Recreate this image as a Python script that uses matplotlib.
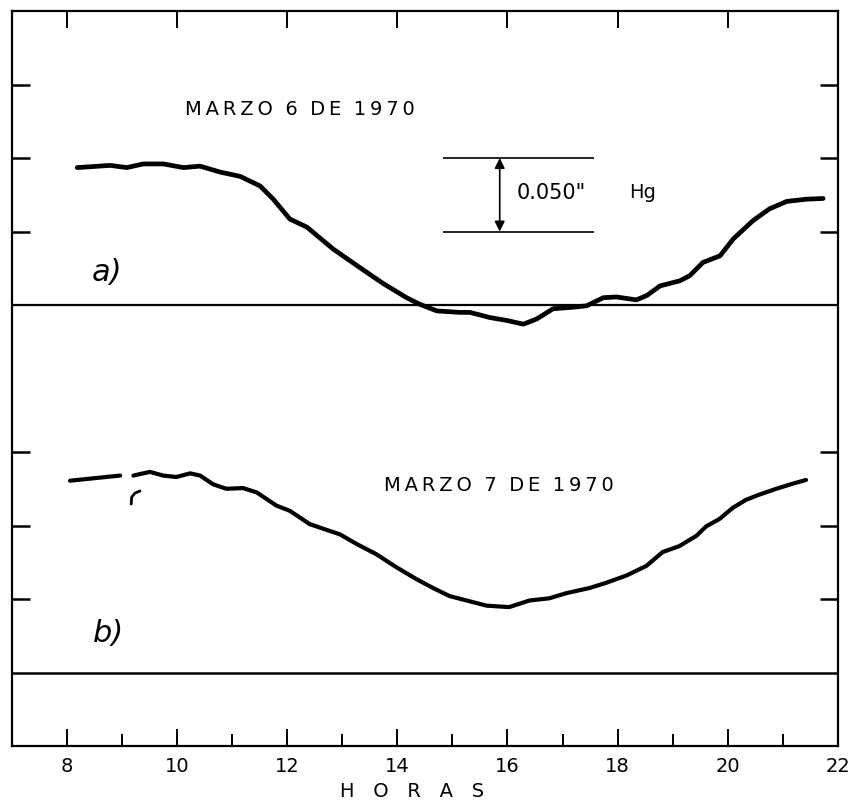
import matplotlib
matplotlib.use("Agg")
import matplotlib.pyplot as plt
from matplotlib.ticker import FixedLocator, NullFormatter

# ---- data (pressure deviation from each panel's baseline, inches Hg) ----
hours_a = [8.19, 8.79, 9.09, 9.39, 9.75, 10.12, 10.42, 10.78, 11.15, 11.51,
           11.75, 12.05, 12.36, 12.84, 13.32, 13.75, 14.17, 14.41, 14.72, 15.14,
           15.32, 15.68, 15.99, 16.29, 16.53, 16.83, 17.19, 17.44, 17.74, 17.98,
           18.34, 18.53, 18.77, 19.13, 19.31, 19.55, 19.86, 20.10, 20.46, 20.76,
           21.07, 21.43, 21.73]
dev_a = [0.0935, 0.095, 0.0935, 0.096, 0.096, 0.0935, 0.0945, 0.0905, 0.0875, 0.081,
         0.072, 0.0585, 0.053, 0.038, 0.0255, 0.0145, 0.005, 0.0005, -0.004, -0.005,
         -0.005, -0.0085, -0.0105, -0.013, -0.0095, -0.0025, -0.0015, -0.0005, 0.005, 0.0055,
         0.0035, 0.0065, 0.013, 0.0165, 0.020, 0.029, 0.0335, 0.045, 0.0575, 0.0655,
         0.0705, 0.072, 0.0725]

hours_b_start = [8.06, 8.97]
dev_b_start = [0.1305, 0.134]

hours_b = [9.21, 9.51, 9.75, 9.99, 10.24, 10.42, 10.66, 10.90, 11.20, 11.45,
           11.81, 12.05, 12.41, 12.72, 12.96, 13.26, 13.62, 13.99, 14.35, 14.65,
           14.95, 15.26, 15.62, 16.03, 16.40, 16.76, 17.07, 17.49, 17.79, 18.16,
           18.52, 18.82, 19.12, 19.43, 19.61, 19.85, 20.09, 20.33, 20.57, 20.88,
           21.18, 21.42]
dev_b = [0.134, 0.1365, 0.134, 0.133, 0.1355, 0.134, 0.128, 0.125, 0.1255, 0.1225,
         0.1135, 0.110, 0.101, 0.097, 0.094, 0.0875, 0.0805, 0.0715, 0.0635, 0.0575,
         0.052, 0.049, 0.0455, 0.0445, 0.049, 0.0505, 0.054, 0.0575, 0.061, 0.066,
         0.0725, 0.082, 0.086, 0.093, 0.0995, 0.1045, 0.112, 0.1175, 0.121, 0.125,
         0.1285, 0.131]

hook_hours = [9.33, 9.24, 9.18, 9.17]
hook_dev = [0.1235, 0.1221, 0.1194, 0.1146]

x_major = [8, 10, 12, 14, 16, 18, 20, 22]
x_minor = [9, 11, 13, 15, 17, 19, 21]
x_labels = ["8", "10", "12", "14", "16", "18", "20", "22"]
y_ticks = [0.10, 0.15, 0.20, 0.35, 0.40, 0.45]

base_a = 0.30
base_b = 0.05
scale_bar = 0.050

title_a = "MARZO 6 DE 1970"
title_b = "MARZO 7 DE 1970"
xlabel = "H   O   R   A   S"


def spaced(s):
    # letter spacing with thin spaces inside words
    return "  ".join("\u2009".join(w) for w in s.split(" "))


# ---- figure ----
fig = plt.figure(figsize=(8.49, 8.03), dpi=100)
ax = fig.add_axes([0.0137, 0.0697, 0.9733, 0.9153])
ax.set_xlim(7, 22)
ax.set_ylim(0, 0.5)

for s in ax.spines.values():
    s.set_linewidth(1.6)

ax.axhline(base_a, color="black", lw=1.6)
ax.axhline(base_b, color="black", lw=1.8)

ax.plot(hours_a, [base_a + v for v in dev_a], color="black", lw=3.4,
        solid_capstyle="round", solid_joinstyle="round")
ax.plot(hours_b_start, [base_b + v for v in dev_b_start], color="black", lw=3.0,
        solid_capstyle="round")
ax.plot(hours_b, [base_b + v for v in dev_b], color="black", lw=3.0,
        solid_capstyle="round", solid_joinstyle="round")
ax.plot(hook_hours, [base_b + v for v in hook_dev], color="black", lw=2.0,
        solid_capstyle="round", solid_joinstyle="round")

# ticks
ax.xaxis.set_major_locator(FixedLocator(x_major))
ax.xaxis.set_minor_locator(FixedLocator(x_minor))
ax.set_xticklabels(x_labels)
ax.yaxis.set_major_locator(FixedLocator(y_ticks))
ax.yaxis.set_major_formatter(NullFormatter())
ax.tick_params(axis="x", which="major", direction="in", length=12, width=1.4,
               top=True, bottom=True, labelsize=14, pad=7)
ax.tick_params(axis="x", which="minor", direction="in", length=8.5, width=1.4,
               top=False, bottom=True)
ax.tick_params(axis="y", which="major", direction="in", length=13, width=1.8,
               left=True, right=True)

# scale bar
ax.hlines([base_a + 2 * scale_bar, base_a + scale_bar], 14.83, 17.58,
          color="black", lw=1.2)
ax.annotate("", xy=(15.86, base_a + 2 * scale_bar), xytext=(15.86, base_a + scale_bar),
            arrowprops=dict(arrowstyle="<|-|>", lw=1.2, color="black",
                            mutation_scale=15, shrinkA=0, shrinkB=0))
ax.text(16.16, base_a + 1.54 * scale_bar, '0.050"', fontsize=15, ha="left", va="center")
ax.text(18.21, base_a + 1.54 * scale_bar, "Hg", fontsize=14, ha="left", va="center")

# titles and panel letters
ax.text(12.23, 0.4335, spaced(title_a), fontsize=14, ha="center", va="center")
ax.text(15.84, 0.178, spaced(title_b), fontsize=14, ha="center", va="center")
ax.text(8.73, 0.3225, "a)", fontsize=22, style="italic", ha="center", va="center")
ax.text(8.75, 0.077, "b)", fontsize=22, style="italic", ha="center", va="center")

fig.text(412 / 849, 1 - 792 / 803, xlabel, fontsize=14, ha="center", va="center")

fig.savefig("out.png", dpi=100)
